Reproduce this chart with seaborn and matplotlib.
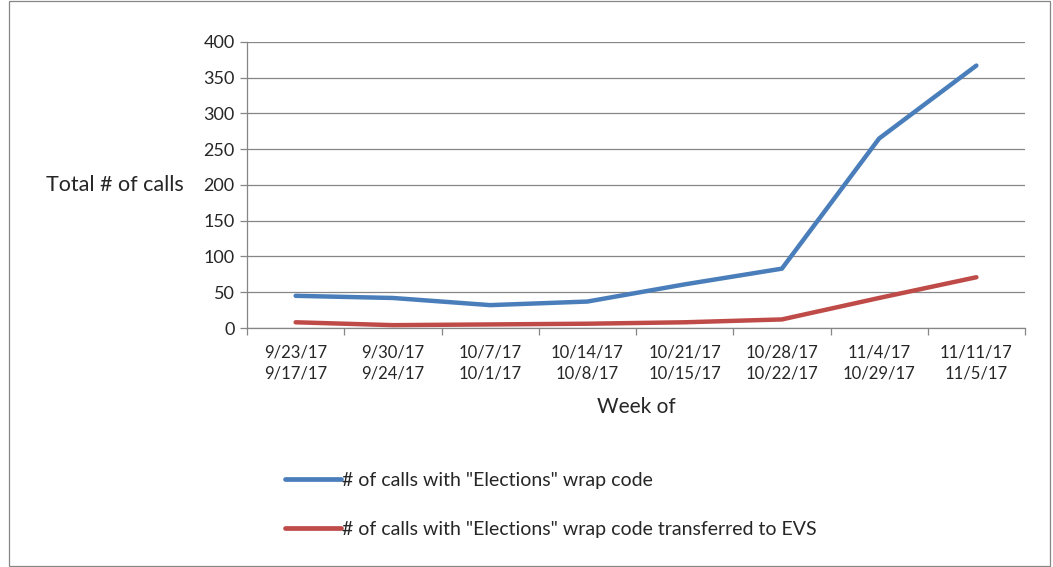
import pandas as pd
import numpy as np
import matplotlib
matplotlib.use("Agg")
import matplotlib.pyplot as plt
import seaborn as sns
from matplotlib.patches import Rectangle

weeks = ["9/23/17\n9/17/17", "9/30/17\n9/24/17", "10/7/17\n10/1/17", "10/14/17\n10/8/17",
         "10/21/17\n10/15/17", "10/28/17\n10/22/17", "11/4/17\n10/29/17", "11/11/17\n11/5/17"]
elections = [45, 42, 32, 37, 61, 83, 265, 367]
transferred = [8, 4, 5, 6, 8, 12, 42, 71]
series_names = ['# of calls with "Elections" wrap code',
                '# of calls with "Elections" wrap code transferred to EVS']

df = pd.DataFrame({
    "pos": list(range(len(weeks))) * 2,
    "calls": elections + transferred,
    "series": [series_names[0]] * len(weeks) + [series_names[1]] * len(weeks),
})

sns.set_style("white")
plt.rcParams['font.family'] = ['Lato', 'DejaVu Sans']
colors = ["#4a7ebb", "#be4b48"]

fig = plt.figure(figsize=(10.53, 5.67), dpi=100)
ax = fig.add_axes([0.2346, 0.4215, 0.7388, 0.5045])

sns.lineplot(data=df, x="pos", y="calls", hue="series",
             palette=colors, linewidth=3.2, ax=ax, legend=False)

ax.set_xlim(-0.5, len(weeks) - 0.5)
ax.set_ylim(0, 400)
ax.set_yticks(range(0, 401, 50))
ax.tick_params(axis="y", left=True, labelsize=13, length=5, color="#868686", width=0.9, pad=4)
ax.set_xticks(range(len(weeks)))
ax.set_xticklabels(weeks, fontsize=12, linespacing=1.4)
ax.tick_params(axis="x", which="major", bottom=False, length=0, pad=12)
ax.set_xticks(np.arange(-0.5, len(weeks), 1.0), minor=True)
ax.tick_params(axis="x", which="minor", bottom=True, length=5, color="#868686", width=0.9,
               direction="out")
ax.yaxis.grid(True, color="#868686", linewidth=0.9)
ax.set_axisbelow(True)
for s in ["top", "right"]:
    ax.spines[s].set_visible(False)
for s in ["left", "bottom"]:
    ax.spines[s].set_color("#868686")
    ax.spines[s].set_linewidth(0.9)

ax.set_xlabel("Week of", fontsize=15, labelpad=11)
ax.set_ylabel("Total # of calls", fontsize=15.5, rotation=0, ha="right", va="center", labelpad=14)

handles = [plt.Line2D([], [], color=c, linewidth=3.4, solid_capstyle="round") for c in colors]
fig.legend(handles, series_names, loc="upper left", bbox_to_anchor=(0.261, 0.185),
           frameon=False, fontsize=14, handlelength=2.9, handletextpad=0.05,
           labelspacing=1.65, borderpad=0)

fig.patches.append(Rectangle((0.009, 0.002), 0.988, 0.996, transform=fig.transFigure,
                             fill=False, edgecolor="#868686", linewidth=0.9))

fig.savefig("out.png", dpi=100)
